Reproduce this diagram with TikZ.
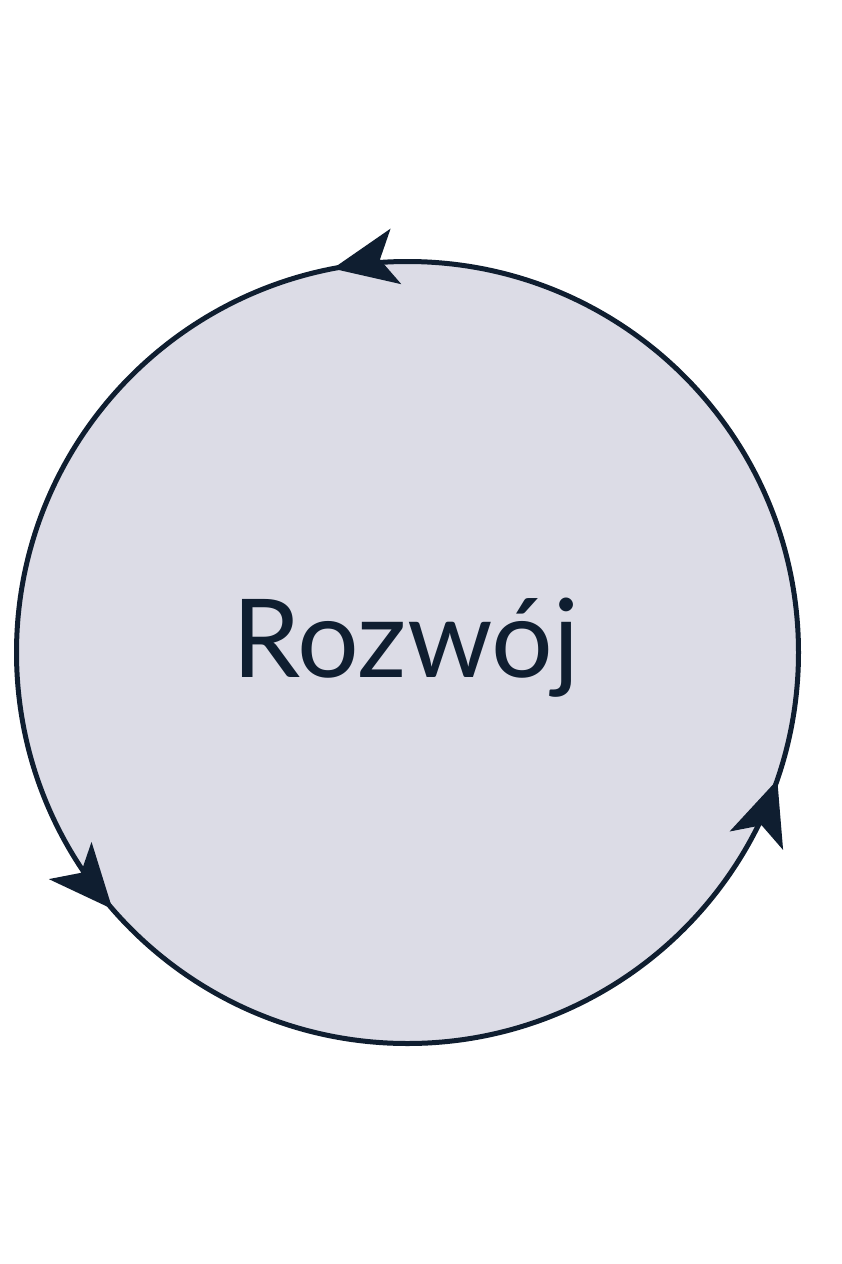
\documentclass[tikz,border=0pt]{standalone}
\usepackage{fontspec}
\setmainfont{Lato}
\usetikzlibrary{arrows.meta,decorations.markings}
\definecolor{navy}{HTML}{0F1E30}
\definecolor{lav}{HTML}{DCDCE6}
\tikzset{
  ring/.style={circle, draw=navy, fill=lav, line width=5pt, minimum size=782pt, inner sep=0pt},
  tipmark/.style={navy, line width=5pt, postaction={decorate}, decoration={markings,
    mark=at position 0.2806 with {\arrow{Stealth[length=64pt, width=56pt, inset=16pt]}},
    mark=at position 0.6139 with {\arrow{Stealth[length=64pt, width=56pt, inset=16pt]}},
    mark=at position 0.9472 with {\arrow{Stealth[length=64pt, width=56pt, inset=16pt]}}}},
  lbl/.style={text=navy, font=\fontsize{109}{112}\selectfont}
}
\begin{document}
\begin{tikzpicture}[x=1pt,y=1pt]
\useasboundingbox (0,0) rectangle (842,-1264);
\fill[white] (0,0) rectangle (842,-1264);
\node[ring] (c) at (407.5,-652.5) {};
\node[lbl, anchor=base] (t) at (406,-677) {Rozwój};
\path[tipmark] (c.center) ++(0:391pt) arc[start angle=0, end angle=360, radius=391pt];
\end{tikzpicture}
\end{document}
